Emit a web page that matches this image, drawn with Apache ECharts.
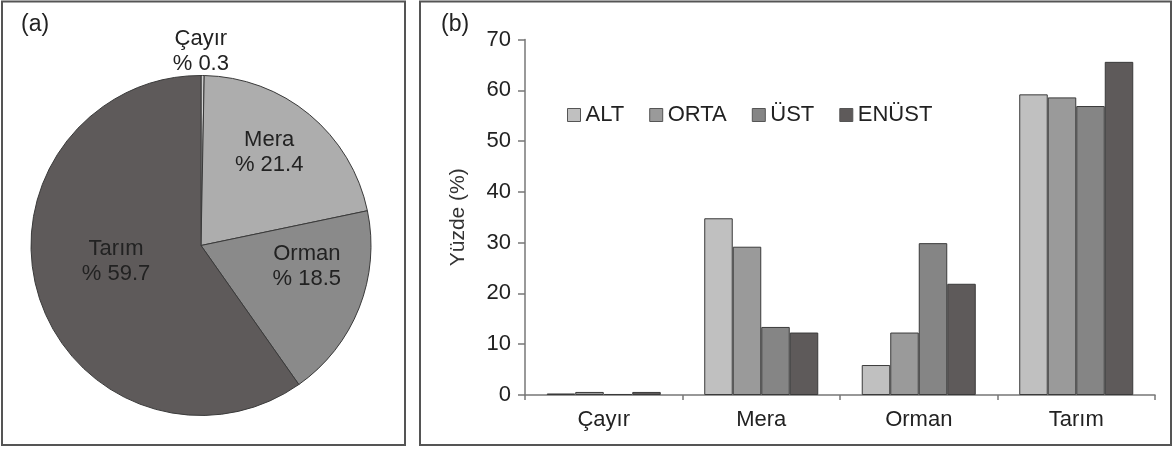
<!DOCTYPE html>
<html>
<head>
<meta charset="utf-8">
<script src="https://cdn.jsdelivr.net/npm/echarts@6/dist/echarts.min.js"></script>
<style>
html,body{margin:0;padding:0;background:#fff;}
#c{width:1173px;height:450px;}
</style>
</head>
<body>
<div id="c"></div>
<script>
// ---- data ----
var pieNames = ['Çayır', 'Mera', 'Orman', 'Tarım'];
var pieValues = [0.3, 21.4, 18.5, 59.7];
var categories = ['Çayır', 'Mera', 'Orman', 'Tarım'];
var seriesNames = ['ALT', 'ORTA', 'ÜST', 'ENÜST'];
var altValues = [0.3, 34.8, 5.9, 59.2];
var ortaValues = [0.6, 29.2, 12.3, 58.6];
var ustValues = [0.2, 13.4, 29.9, 56.9];
var enustValues = [0.6, 12.3, 21.9, 65.6];
var yTicks = [0, 10, 20, 30, 40, 50, 60, 70];

// ---- styles ----
var FONT = 'Liberation Sans, Arial, sans-serif';
var pieColors = ['#d0d0d0', '#adadad', '#8a8a8a', '#5e5a5a'];
var barColors = ['#c0c0c0', '#9a9a9a', '#858585', '#5e5a5a'];
var labelShift = [[-1, -106], [12, -25], [24, -11], [-1, -11]];

var chart = echarts.init(document.getElementById('c'), null, {renderer: 'canvas'});

var seriesData = [altValues, ortaValues, ustValues, enustValues];
var barSeries = seriesData.map(function (vals, i) {
  return {
    type: 'bar',
    name: seriesNames[i],
    data: vals,
    barGap: '0%',
    barCategoryGap: '27.6%',
    itemStyle: {color: barColors[i], borderColor: '#3a3a3a', borderWidth: 1},
    emphasis: {disabled: true}
  };
});

var option = {
  animation: false,
  backgroundColor: '#fff',
  textStyle: {fontFamily: FONT},
  graphic: [
    {type: 'rect', shape: {x: 2, y: 1.5, width: 403, height: 443.5}, style: {fill: 'none', stroke: '#555', lineWidth: 2}},
    {type: 'rect', shape: {x: 420, y: 1.5, width: 751, height: 443.5}, style: {fill: 'none', stroke: '#555', lineWidth: 2}},
    {type: 'text', left: 21, top: 13, style: {text: '(a)', font: '23px ' + FONT, fill: '#222'}},
    {type: 'text', left: 441, top: 13, style: {text: '(b)', font: '23px ' + FONT, fill: '#222'}}
  ],
  legend: {
    data: seriesNames,
    left: 562,
    top: 99,
    itemWidth: 13,
    itemHeight: 13,
    itemGap: 25,
    icon: 'rect',
    textStyle: {fontSize: 22, color: '#222', fontFamily: FONT},
    itemStyle: {borderColor: '#555', borderWidth: 1}
  },
  grid: {left: 525, right: 18, top: 39.5, bottom: 55, containLabel: false},
  xAxis: {
    type: 'category',
    data: categories,
    axisLine: {lineStyle: {color: '#777', width: 1.5}},
    axisTick: {show: true, length: 5, lineStyle: {color: '#777', width: 1.5}},
    axisLabel: {fontSize: 22, color: '#222', margin: 14, fontFamily: FONT}
  },
  yAxis: {
    type: 'value',
    min: 0,
    max: 70,
    interval: 10,
    name: 'Yüzde (%)',
    nameLocation: 'middle',
    nameGap: 56,
    nameRotate: 90,
    nameTextStyle: {fontSize: 21, color: '#333', fontFamily: FONT},
    splitLine: {show: false},
    axisLine: {show: true, lineStyle: {color: '#777', width: 1.5}},
    axisTick: {show: true, length: 7, lineStyle: {color: '#777', width: 1.5}},
    axisLabel: {
      fontSize: 22, color: '#222', margin: 14, fontFamily: FONT,
      formatter: function (v) { return yTicks.indexOf(v) >= 0 ? String(v) : ''; }
    }
  },
  series: [
    {
      type: 'pie',
      center: [201, 245.5],
      radius: 170,
      startAngle: 90,
      clockwise: true,
      silent: true,
      data: pieNames.map(function (n, i) {
        return {name: n, value: pieValues[i], itemStyle: {color: pieColors[i]}};
      }),
      itemStyle: {borderColor: '#3a3a3a', borderWidth: 1},
      label: {
        show: true,
        position: 'inside',
        formatter: function (p) { return p.name + '\n% ' + p.value; },
        fontSize: 22,
        lineHeight: 25,
        color: '#222',
        fontFamily: FONT
      },
      labelLine: {show: false},
      labelLayout: function (params) {
        var s = labelShift[params.dataIndex];
        return {dx: s[0], dy: s[1]};
      },
      emphasis: {disabled: true}
    }
  ].concat(barSeries)
};

chart.setOption(option);
</script>
</body>
</html>
